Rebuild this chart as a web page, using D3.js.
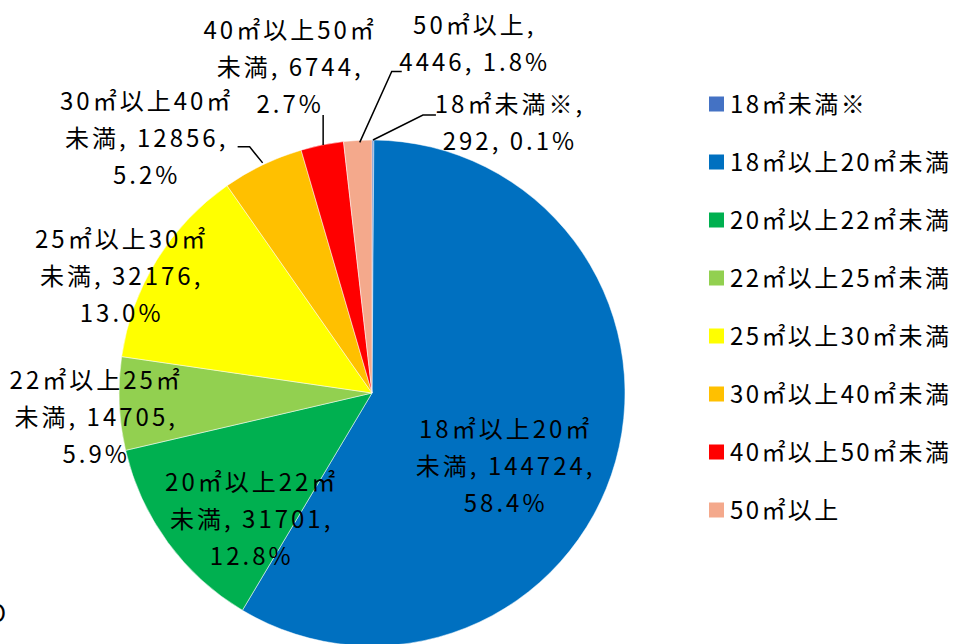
<!DOCTYPE html>
<html>
<head>
<meta charset="utf-8">
<script src="https://cdn.jsdelivr.net/npm/d3@7"></script>
<style>
  body { margin: 0; background: #fff; }
  text { font-family: "Noto Sans CJK JP", sans-serif; font-size: 24px; letter-spacing: 3px; fill: #000; }
  .legend text { letter-spacing: 2.4px; }
</style>
</head>
<body>
<div id="chart"></div>
<script>
// data
const categories = ["18㎡未満※", "18㎡以上20㎡未満", "20㎡以上22㎡未満", "22㎡以上25㎡未満",
                    "25㎡以上30㎡未満", "30㎡以上40㎡未満", "40㎡以上50㎡未満", "50㎡以上"]
const counts = [292, 144724, 31701, 14705, 32176, 12856, 6744, 4446]
const colors = ["#4472C4", "#0070C0", "#00B050", "#92D050", "#FFFF00", "#FFC000", "#FF0000", "#F4A98C"]

// label placement, offsets from the slice's outer edge point
const labelOffsets = [[137, -38], [-110, -34], [84, -62], [-23, -26], [-35, -23], [-116, -66], [-32, -117], [117, -117]]
const leaders = [
    [[0, 0], [50, -25], [63, -25]],
    null, null, null, null,
    [[0, -2], [-13, -18], [-25, -18]],
    [[1, 0], [1, -30]],
    [[2, 2], [34, -69], [44, -69]]
]

let dimensions = {
    width: 955,
    height: 644,
    cx: 372,
    cy: 393,
    radius: 253,
    lineHeight: 37,
}

const svg = d3.select("#chart").append("svg")
    .attr("width", dimensions.width)
    .attr("height", dimensions.height)

const total = d3.sum(counts)
const pct = v => d3.format(".1f")(v / total * 100) + "%"

const pie = d3.pie().sort(null).value(d => d)
const arcs = pie(counts)
const arc = d3.arc().innerRadius(0).outerRadius(dimensions.radius)
const edge = d3.arc().innerRadius(dimensions.radius).outerRadius(dimensions.radius)

const pieG = svg.append("g")
    .attr("transform", `translate(${dimensions.cx},${dimensions.cy})`)

pieG.selectAll("path")
    .data(arcs)
    .enter()
    .append("path")
    .attr("d", arc)
    .attr("fill", (d, i) => colors[i])
    .attr("stroke", "#fff")
    .attr("stroke-width", 0.5)

function labelLines(name, v, p) {
    if (name.includes("以上") && name.endsWith("未満")) {
        return [name.replace(/未満$/, ""), "未満, " + v + ",", p]
    }
    return [name + ",", v + ", " + p]
}

// leader lines
const line = d3.line()
arcs.forEach((d, i) => {
    if (!leaders[i]) return
    const [ex, ey] = edge.centroid(d)
    pieG.append("path")
        .attr("d", line(leaders[i].map(p => [ex + p[0], ey + p[1]])))
        .attr("fill", "none")
        .attr("stroke", "#000")
        .attr("stroke-width", 1.5)
})

// data labels
arcs.forEach((d, i) => {
    const [ex, ey] = edge.centroid(d)
    const lines = labelLines(categories[i], counts[i], pct(counts[i]))
    const t = pieG.append("text")
        .attr("text-anchor", "middle")
        .attr("dominant-baseline", "central")
    lines.forEach((s, k) => {
        t.append("tspan")
            .attr("x", ex + labelOffsets[i][0])
            .attr("y", ey + labelOffsets[i][1] + k * dimensions.lineHeight)
            .text(s)
    })
})

// legend
const legendY = d3.scalePoint()
    .domain(categories)
    .range([104, 104 + 58 * (categories.length - 1)])

const legend = svg.append("g").attr("class", "legend")
const item = legend.selectAll("g")
    .data(categories)
    .enter()
    .append("g")
    .attr("transform", d => `translate(709,${legendY(d)})`)

item.append("rect")
    .attr("x", 0)
    .attr("y", -7.5)
    .attr("width", 15)
    .attr("height", 15)
    .attr("fill", (d, i) => colors[i])

item.append("text")
    .attr("x", 21)
    .attr("y", -2)
    .attr("dominant-baseline", "central")
    .text(d => d)

// clipped character at the bottom left edge
svg.append("text")
    .attr("x", 6)
    .attr("y", 611)
    .attr("text-anchor", "end")
    .attr("dominant-baseline", "central")
    .style("letter-spacing", "0px")
    .text("O")
</script>
</body>
</html>
